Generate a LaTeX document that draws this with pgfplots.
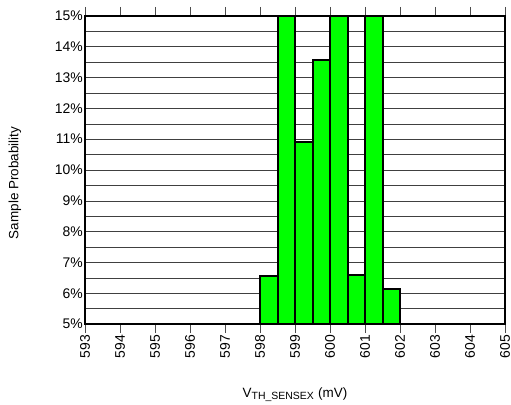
\documentclass[border=0pt]{standalone}
\usepackage{fontspec}
\setmainfont{Liberation Sans}
\usepackage{pgfplots}
\pgfplotsset{compat=1.18}
\begin{document}
\fontsize{14}{16}\selectfont
\begin{tikzpicture}
\useasboundingbox (-85bp,-81bp) rectangle (426bp,324bp);
\begin{axis}[
  scale only axis,
  width=420bp, height=308bp,
  xmin=593, xmax=605, ymin=5, ymax=15,
  xtick={593,594,...,605},
  ytick={5,6,...,15},
  minor y tick num=1,
  ymajorgrids, yminorgrids,
  major grid style={line width=0.6pt, black!75},
  minor grid style={line width=0.6pt, black!75},
  axis line style={line width=2bp},
  xtick pos=both,
  ytick pos=left,
  x tick style={line width=0.8pt, black!70},
  y tick style={line width=0.6pt, black!75},
  xtick align=outside,
  ytick align=inside,
  major tick length=9bp,
  minor tick length=5bp,
  xticklabel style={rotate=90, anchor=east, inner sep=2bp, font=\fontsize{14}{16}\selectfont},
  yticklabel style={font=\fontsize{14}{16}\selectfont, inner sep=2bp},
  yticklabel={\pgfmathprintnumber{\tick}\%},
  /pgf/number format/assume math mode=true,
  xlabel={V\textsubscript{\fontsize{10.5}{12}\selectfont TH\_SENSEX} (mV)},
  ylabel={Sample Probability},
  xlabel style={at={(axis description cs:0.5,-0.23)}, anchor=center},
  ylabel style={at={(axis description cs:-0.167,0.458)}, anchor=center, rotate=0},
  label style={font=\fontsize{13.5}{16}\selectfont},
]
\addplot[ybar interval, fill={rgb,255:red,0;green,255;blue,0}, draw=black, line width=2bp]
coordinates {
(598,6.55) (598.5,15.6) (599,10.92) (599.5,13.58) (600,15.6) (600.5,6.58) (601,15.6) (601.5,6.15) (602,6.15)
};
\draw[line width=2bp] (rel axis cs:0,0) rectangle (rel axis cs:1,1);
\end{axis}
\end{tikzpicture}
\end{document}
